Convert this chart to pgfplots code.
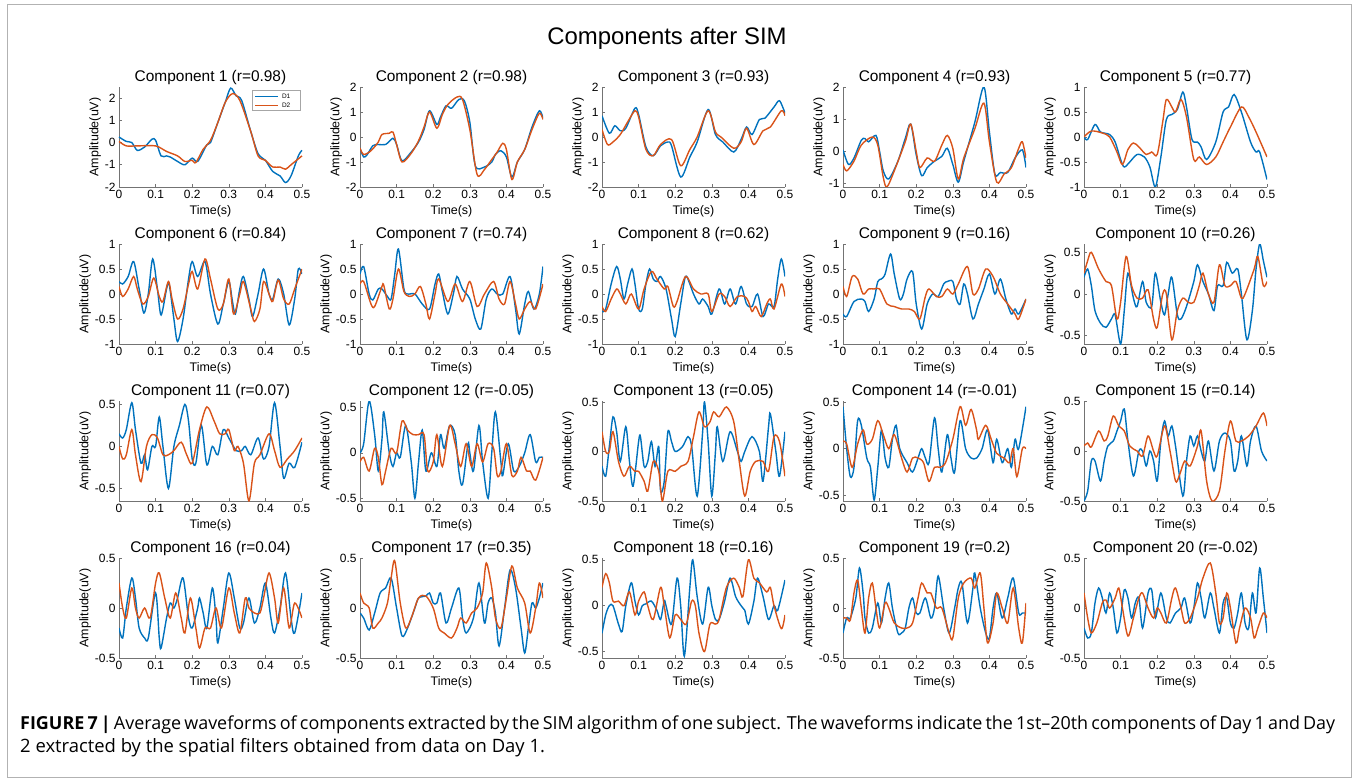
\documentclass[border=0pt]{standalone}
\usepackage{pgfplots}
\pgfplotsset{compat=1.18}
\usepackage{fontspec}
\setmainfont{Liberation Sans}
\newfontfamily\capfont{Open Sans}
\definecolor{mblue}{rgb}{0,0.447,0.741}
\definecolor{mred}{rgb}{0.851,0.325,0.098}
\definecolor{axgray}{gray}{0.45}
\pgfplotsset{
 comp/.style={
   scale only axis, width=183bp, height=100bp,
   axis x line*=bottom, axis y line*=left,
   xmin=0, xmax=0.5, xtick={0,0.1,0.2,0.3,0.4,0.5},
   xticklabels={0,0.1,0.2,0.3,0.4,0.5},
   tick align=inside, major tick length=3bp,
   axis line style={line width=0.6bp, color=axgray},
   tick style={line width=0.6bp, color=axgray},
   ticklabel style={font=\fontsize{12}{13}\selectfont, color=black},
   /pgf/number format/assume math mode=true,
   xlabel={Time(s)}, ylabel={Amplitude(uV)},
   label style={font=\fontsize{12.5}{13}\selectfont},
   xlabel style={yshift=0bp},
   ylabel style={yshift=-3bp},
   title style={font=\fontsize{15.5}{16}\selectfont, inner sep=1bp, yshift=-5bp},
   every axis plot/.append style={line width=1.4bp, smooth, tension=0.5, no markers},
   clip=true,
 }
}
% #1 x, #2 y, #3 title, #4 ymin, #5 ymax, #6 ytick, #7 blue, #8 red
\newcommand{\panel}[8]{%
\begin{axis}[comp, at={(#1bp,-#2bp)}, anchor=north west, title={#3}, ymin=#4, ymax=#5, ytick={#6}]
\addplot[mblue] coordinates {#7};
\addplot[mred] coordinates {#8};
\end{axis}}
\begin{document}
\begin{tikzpicture}
\useasboundingbox (0,0) rectangle (1358bp,-781bp);
\draw[gray!60, line width=0.8bp] (7bp,-4bp) rectangle (1351bp,-777bp);
\node[font=\fontsize{24}{26}\selectfont] at (667bp,-38bp) {Components after SIM};

% ---- Panel 1 with legend
\begin{axis}[comp, at={(119bp,-87bp)}, anchor=north west, title={Component 1 (r=0.98)}, ymin=-2, ymax=2.5, ytick={-2,-1,0,1,2}, clip=false]
\addplot[mblue] coordinates {(0,0.25)(0.02,0.05)(0.035,0.0)(0.05,-0.35)(0.07,-0.2)(0.09,0.15)(0.1,0.1)(0.115,-0.6)(0.13,-0.6)(0.14,-0.65)(0.16,-0.85)(0.18,-1.0)(0.2,-0.7)(0.215,-0.85)(0.24,-0.1)(0.25,0.0)(0.27,0.9)(0.29,1.8)(0.305,2.45)(0.32,2.1)(0.335,1.9)(0.36,0.5)(0.38,-0.5)(0.4,-0.8)(0.42,-1.3)(0.44,-1.5)(0.455,-1.8)(0.47,-1.5)(0.49,-0.6)(0.5,-0.35)};
\addplot[mred] coordinates {(0,0.05)(0.02,-0.15)(0.05,-0.15)(0.1,-0.15)(0.13,-0.4)(0.16,-0.6)(0.18,-0.85)(0.2,-0.8)(0.21,-0.9)(0.23,-0.3)(0.25,0.1)(0.27,0.9)(0.29,1.8)(0.31,2.2)(0.33,1.9)(0.36,0.5)(0.38,-0.6)(0.4,-0.8)(0.42,-1.1)(0.44,-1.1)(0.455,-1.2)(0.47,-1.0)(0.5,-0.6)};
% legend box
\draw[gray!70, fill=white, line width=0.5bp] (rel axis cs:0.727,0.97) rectangle (rel axis cs:0.989,0.77);
\draw[mblue, line width=1.3bp] (rel axis cs:0.745,0.905) -- (rel axis cs:0.87,0.905);
\draw[mred, line width=1.3bp] (rel axis cs:0.745,0.815) -- (rel axis cs:0.87,0.815);
\node[anchor=west, inner sep=0pt, font=\fontsize{6.5}{7}\selectfont] at (rel axis cs:0.89,0.905) {D1};
\node[anchor=west, inner sep=0pt, font=\fontsize{6.5}{7}\selectfont] at (rel axis cs:0.89,0.815) {D2};
\end{axis}

\panel{360}{87}{Component 2 (r=0.98)}{-2}{2}{-2,-1,0,1,2}
{(0,-0.45)(0.01,-0.8)(0.02,-0.7)(0.035,-0.35)(0.05,-0.3)(0.07,-0.3)(0.09,-0.05)(0.1,-0.3)(0.115,-0.95)(0.14,-0.6)(0.16,-0.2)(0.175,0.3)(0.19,1.05)(0.21,0.5)(0.22,0.8)(0.235,1.25)(0.25,1.15)(0.27,1.5)(0.285,1.45)(0.3,0.6)(0.315,-1.15)(0.34,-1.2)(0.36,-1.0)(0.37,-0.7)(0.385,-0.55)(0.4,-0.8)(0.415,-1.6)(0.43,-1.0)(0.45,-0.5)(0.47,0.4)(0.49,1.05)(0.5,0.75)}
{(0,-0.45)(0.01,-0.7)(0.03,-0.55)(0.05,-0.2)(0.06,0.1)(0.08,0.15)(0.09,0.2)(0.1,-0.3)(0.115,-1.0)(0.14,-0.65)(0.16,-0.15)(0.175,0.4)(0.19,1.0)(0.21,0.35)(0.225,0.9)(0.24,1.3)(0.265,1.6)(0.28,1.5)(0.3,0.3)(0.32,-1.5)(0.34,-1.3)(0.36,-0.9)(0.375,-0.6)(0.39,-0.25)(0.4,-0.5)(0.415,-1.7)(0.43,-1.0)(0.45,-0.5)(0.47,0.3)(0.49,0.95)(0.5,0.7)}

\panel{602}{87}{Component 3 (r=0.93)}{-2}{2}{-2,-1,0,1,2}
{(0,0.85)(0.02,0.15)(0.035,0.45)(0.05,0.25)(0.065,0.35)(0.09,1.15)(0.1,0.9)(0.12,-0.4)(0.14,-0.75)(0.16,-0.35)(0.18,-0.2)(0.19,-0.35)(0.215,-1.6)(0.24,-0.8)(0.26,-0.2)(0.29,1.1)(0.31,0.1)(0.33,-0.2)(0.36,-0.6)(0.38,-0.1)(0.395,0.4)(0.41,0.1)(0.43,0.7)(0.445,0.75)(0.47,1.2)(0.485,1.45)(0.5,0.95)}
{(0,0.3)(0.015,-0.3)(0.03,-0.2)(0.05,0.1)(0.07,0.6)(0.09,1.05)(0.1,0.8)(0.12,-0.5)(0.14,-0.75)(0.16,-0.3)(0.19,-0.1)(0.215,-1.15)(0.24,-0.5)(0.26,0.0)(0.29,1.05)(0.31,0.2)(0.325,0.0)(0.36,-0.45)(0.38,-0.2)(0.395,0.35)(0.415,-0.3)(0.44,0.25)(0.46,0.4)(0.49,1.05)(0.5,0.85)}

\panel{843}{87}{Component 4 (r=0.93)}{-1.1}{2}{-1,0,1,2}
{(0,0.05)(0.015,-0.4)(0.03,-0.2)(0.05,0.35)(0.06,0.4)(0.07,0.3)(0.09,0.5)(0.1,0.0)(0.11,-0.6)(0.125,-0.85)(0.15,-0.3)(0.17,0.4)(0.185,0.85)(0.2,-0.1)(0.215,-0.75)(0.23,-0.5)(0.25,-0.3)(0.27,-0.15)(0.285,0.1)(0.3,-0.4)(0.315,-0.95)(0.33,-0.3)(0.36,0.9)(0.385,2.0)(0.4,0.6)(0.415,-0.7)(0.43,-0.65)(0.45,-0.65)(0.47,-0.2)(0.49,0.05)(0.5,-0.5)}
{(0,-0.4)(0.01,-0.6)(0.03,-0.3)(0.05,0.2)(0.08,0.45)(0.095,0.2)(0.11,-0.8)(0.12,-1.1)(0.14,-0.6)(0.17,0.3)(0.185,0.85)(0.2,0.0)(0.21,-0.5)(0.23,-0.2)(0.25,-0.3)(0.27,0.2)(0.285,0.5)(0.3,0.1)(0.315,-0.85)(0.33,-0.2)(0.36,0.7)(0.385,1.5)(0.4,0.3)(0.42,-0.95)(0.44,-0.7)(0.46,-0.5)(0.48,0.1)(0.49,0.3)(0.5,-0.2)}

\panel{1084}{87}{Component 5 (r=0.77)}{-1}{1}{-1,-0.5,0,0.5,1}
{(0,0.0)(0.01,-0.05)(0.03,0.25)(0.045,0.1)(0.07,0.05)(0.085,-0.1)(0.1,-0.45)(0.11,-0.6)(0.125,-0.5)(0.145,-0.35)(0.165,-0.4)(0.18,-0.6)(0.195,-1.0)(0.21,-0.4)(0.225,0.35)(0.24,0.45)(0.255,0.55)(0.27,0.9)(0.28,0.6)(0.295,-0.05)(0.31,-0.1)(0.32,-0.2)(0.335,-0.45)(0.36,-0.1)(0.38,0.5)(0.395,0.6)(0.41,0.85)(0.43,0.5)(0.455,-0.1)(0.47,-0.3)(0.48,-0.3)(0.5,-0.85)}
{(0,0.0)(0.02,0.12)(0.05,0.08)(0.07,0.0)(0.09,-0.3)(0.105,-0.55)(0.12,-0.25)(0.135,-0.12)(0.15,-0.2)(0.17,-0.35)(0.185,-0.3)(0.2,-0.35)(0.215,0.3)(0.225,0.75)(0.24,0.6)(0.25,0.5)(0.265,0.75)(0.28,0.4)(0.3,-0.45)(0.315,-0.4)(0.335,-0.55)(0.36,-0.4)(0.38,-0.1)(0.4,0.2)(0.43,0.6)(0.45,0.4)(0.47,0.1)(0.5,-0.4)}

% ---- Row 2
\panel{119}{244}{Component 6 (r=0.84)}{-1}{1}{-1,-0.5,0,0.5,1}
{(0,0.25)(0.01,0.2)(0.025,0.35)(0.04,0.65)(0.055,0.1)(0.068,-0.38)(0.08,0.0)(0.092,0.7)(0.105,0.1)(0.115,-0.42)(0.13,0.1)(0.137,0.2)(0.15,-0.5)(0.16,-0.95)(0.175,-0.5)(0.19,0.3)(0.2,0.65)(0.215,0.35)(0.235,0.65)(0.25,0.0)(0.27,-0.6)(0.285,-0.2)(0.3,0.25)(0.31,-0.15)(0.318,-0.4)(0.33,0.1)(0.34,0.35)(0.355,-0.1)(0.365,-0.45)(0.38,0.0)(0.395,0.5)(0.41,0.0)(0.42,-0.1)(0.435,0.3)(0.45,0.0)(0.465,-0.62)(0.48,-0.1)(0.49,0.5)(0.5,0.4)}
{(0,0.15)(0.01,-0.05)(0.025,0.1)(0.04,0.35)(0.05,0.1)(0.065,-0.2)(0.08,-0.05)(0.095,0.32)(0.11,-0.05)(0.12,-0.15)(0.135,0.25)(0.145,-0.1)(0.16,-0.5)(0.175,-0.3)(0.19,0.2)(0.2,0.45)(0.215,0.1)(0.235,0.7)(0.25,0.3)(0.27,-0.3)(0.285,-0.2)(0.3,0.3)(0.313,-0.4)(0.33,0.0)(0.34,0.25)(0.36,-0.3)(0.37,-0.55)(0.385,-0.3)(0.395,0.25)(0.41,0.0)(0.42,-0.15)(0.435,0.28)(0.45,-0.1)(0.465,-0.2)(0.48,0.1)(0.5,0.5)}

\panel{360}{244}{Component 7 (r=0.74)}{-1}{1}{-1,-0.5,0,0.5,1}
{(0,0.4)(0.01,0.55)(0.025,0.0)(0.035,-0.12)(0.05,0.1)(0.06,0.1)(0.075,-0.05)(0.085,-0.1)(0.095,0.4)(0.105,0.9)(0.12,0.1)(0.13,0.0)(0.15,0.0)(0.17,-0.2)(0.19,-0.3)(0.205,0.2)(0.215,0.4)(0.225,0.05)(0.24,-0.4)(0.255,0.0)(0.265,0.35)(0.28,0.1)(0.3,-0.1)(0.315,-0.5)(0.33,-0.7)(0.345,-0.1)(0.36,0.1)(0.375,0.0)(0.39,0.0)(0.41,0.35)(0.425,-0.3)(0.435,-0.8)(0.45,-0.2)(0.46,0.05)(0.475,-0.3)(0.49,0.0)(0.5,0.55)}
{(0,0.2)(0.01,0.25)(0.03,-0.2)(0.04,-0.25)(0.06,0.15)(0.065,0.17)(0.08,-0.3)(0.09,-0.1)(0.105,0.5)(0.12,0.05)(0.135,-0.05)(0.15,0.0)(0.165,0.15)(0.18,-0.2)(0.19,-0.5)(0.205,0.0)(0.215,0.3)(0.24,-0.15)(0.26,0.2)(0.28,-0.15)(0.3,0.25)(0.32,-0.25)(0.34,0.0)(0.365,0.25)(0.38,-0.1)(0.395,-0.2)(0.41,0.25)(0.425,-0.2)(0.435,-0.5)(0.45,-0.3)(0.465,-0.15)(0.48,-0.3)(0.5,0.2)}

\panel{602}{244}{Component 8 (r=0.62)}{-1}{1}{-1,-0.5,0,0.5,1}
{(0,-0.35)(0.01,-0.3)(0.025,0.2)(0.04,0.55)(0.05,0.3)(0.06,-0.1)(0.07,0.2)(0.082,0.5)(0.09,0.2)(0.1,-0.3)(0.11,-0.3)(0.12,0.2)(0.13,0.5)(0.14,0.3)(0.15,0.25)(0.16,0.35)(0.175,0.1)(0.19,-0.5)(0.2,-0.85)(0.215,-0.2)(0.228,0.35)(0.24,0.2)(0.25,0.0)(0.265,-0.2)(0.275,-0.1)(0.29,-0.25)(0.3,-0.4)(0.32,0.1)(0.335,-0.2)(0.35,0.1)(0.365,-0.2)(0.38,0.15)(0.395,-0.2)(0.41,-0.25)(0.425,0.0)(0.44,-0.45)(0.455,-0.2)(0.47,-0.25)(0.48,0.3)(0.49,0.7)(0.5,0.35)}
{(0,-0.25)(0.01,-0.35)(0.025,-0.1)(0.04,0.1)(0.05,0.0)(0.065,-0.2)(0.08,0.0)(0.1,-0.3)(0.115,0.1)(0.135,0.45)(0.15,0.3)(0.17,0.1)(0.18,0.15)(0.195,-0.25)(0.205,-0.15)(0.228,0.35)(0.25,0.1)(0.27,0.0)(0.29,0.0)(0.3,-0.35)(0.32,0.0)(0.335,-0.05)(0.35,-0.25)(0.37,-0.05)(0.39,-0.05)(0.4,-0.15)(0.41,-0.35)(0.42,-0.25)(0.435,-0.45)(0.45,-0.2)(0.46,-0.1)(0.47,-0.3)(0.49,0.2)(0.5,-0.05)}

\panel{843}{244}{Component 9 (r=0.16)}{-1}{1}{-1,-0.5,0,0.5,1}
{(0,-0.4)(0.01,-0.45)(0.03,-0.15)(0.05,-0.1)(0.06,-0.15)(0.07,-0.35)(0.085,-0.1)(0.095,0.25)(0.105,0.3)(0.115,0.4)(0.13,0.8)(0.14,0.4)(0.155,-0.1)(0.165,0.0)(0.175,0.3)(0.19,0.45)(0.2,-0.2)(0.215,-0.7)(0.23,-0.2)(0.245,0.0)(0.26,-0.05)(0.275,0.2)(0.285,0.25)(0.3,0.25)(0.31,-0.1)(0.32,-0.2)(0.33,0.2)(0.34,0.0)(0.355,-0.5)(0.37,-0.2)(0.385,0.1)(0.4,0.4)(0.415,0.0)(0.43,0.3)(0.445,-0.1)(0.46,-0.4)(0.47,-0.3)(0.48,-0.4)(0.5,-0.1)}
{(0,0.15)(0.01,-0.05)(0.025,0.35)(0.04,0.3)(0.055,0.0)(0.07,0.1)(0.085,0.1)(0.1,0.1)(0.12,-0.2)(0.14,-0.25)(0.16,-0.3)(0.18,-0.3)(0.195,-0.35)(0.21,-0.5)(0.225,-0.05)(0.235,0.1)(0.255,-0.05)(0.27,-0.05)(0.285,0.1)(0.3,0.0)(0.315,0.2)(0.34,0.55)(0.355,0.0)(0.37,0.1)(0.39,0.5)(0.41,0.35)(0.43,0.0)(0.45,-0.2)(0.47,-0.4)(0.48,-0.5)(0.5,-0.1)}

\panel{1084}{244}{Component 10 (r=0.26)}{-0.6}{0.6}{-0.5,0,0.5}
{(0,0.2)(0.01,0.3)(0.02,0.1)(0.03,-0.2)(0.045,-0.35)(0.06,-0.4)(0.075,-0.3)(0.085,-0.25)(0.1,-0.6)(0.11,-0.2)(0.12,0.25)(0.135,-0.05)(0.145,-0.15)(0.16,0.15)(0.17,-0.1)(0.185,-0.15)(0.195,0.25)(0.21,-0.1)(0.22,-0.25)(0.23,0.0)(0.24,0.2)(0.255,-0.25)(0.265,-0.3)(0.28,-0.15)(0.3,0.15)(0.31,0.35)(0.325,0.15)(0.34,0.0)(0.355,-0.2)(0.365,0.1)(0.38,0.1)(0.39,0.38)(0.405,0.25)(0.42,0.3)(0.43,0.0)(0.445,-0.55)(0.46,-0.2)(0.47,0.3)(0.48,0.6)(0.49,0.4)(0.5,0.2)}
{(0,0.25)(0.01,0.4)(0.02,0.5)(0.04,0.3)(0.06,0.15)(0.075,0.1)(0.09,-0.3)(0.1,-0.1)(0.115,0.45)(0.13,0.1)(0.145,-0.05)(0.16,-0.05)(0.175,0.05)(0.19,-0.3)(0.2,-0.4)(0.215,0.0)(0.225,0.0)(0.24,-0.55)(0.255,-0.2)(0.27,-0.05)(0.285,-0.1)(0.3,-0.1)(0.315,0.1)(0.325,0.25)(0.34,0.0)(0.355,-0.1)(0.37,0.35)(0.385,0.1)(0.4,0.1)(0.415,0.15)(0.43,-0.05)(0.44,0.0)(0.465,0.3)(0.475,0.45)(0.49,0.1)(0.5,0.15)}

% ---- Row 3
\panel{119}{401}{Component 11 (r=0.07)}{-0.65}{0.54}{-0.5,0,0.5}
{(0,0.15)(0.01,0.1)(0.02,0.2)(0.035,0.52)(0.045,0.2)(0.06,-0.2)(0.07,-0.1)(0.078,-0.28)(0.09,0.0)(0.1,0.0)(0.11,0.35)(0.12,0.0)(0.135,-0.5)(0.15,0.0)(0.165,0.25)(0.18,0.5)(0.19,0.3)(0.2,-0.15)(0.21,-0.2)(0.225,0.25)(0.24,-0.22)(0.255,0.0)(0.27,-0.1)(0.285,0.2)(0.3,0.1)(0.32,-0.05)(0.335,-0.05)(0.345,0.0)(0.36,-0.1)(0.38,0.1)(0.395,-0.15)(0.41,0.0)(0.425,0.52)(0.44,0.0)(0.45,-0.38)(0.465,-0.2)(0.48,-0.25)(0.5,0.05)}
{(0,0.0)(0.01,-0.15)(0.02,-0.1)(0.035,0.2)(0.045,-0.1)(0.06,-0.42)(0.075,0.0)(0.09,0.14)(0.105,0.1)(0.12,-0.1)(0.135,-0.1)(0.15,-0.05)(0.17,0.05)(0.185,-0.1)(0.2,-0.2)(0.22,0.2)(0.24,0.47)(0.26,0.3)(0.275,0.15)(0.29,0.15)(0.3,0.2)(0.315,-0.05)(0.325,0.0)(0.34,-0.2)(0.355,-0.65)(0.37,-0.2)(0.385,-0.1)(0.41,0.15)(0.425,-0.05)(0.44,-0.25)(0.46,-0.15)(0.48,-0.05)(0.5,0.1)}

\panel{360}{401}{Component 12 (r=-0.05)}{-0.53}{0.57}{-0.5,0,0.5}
{(0,0.0)(0.01,0.1)(0.025,0.57)(0.04,0.2)(0.05,-0.2)(0.06,0.15)(0.065,0.45)(0.08,0.0)(0.09,-0.15)(0.1,0.0)(0.11,-0.05)(0.125,0.3)(0.14,-0.1)(0.15,-0.5)(0.16,-0.1)(0.17,0.25)(0.18,-0.2)(0.195,0.0)(0.21,-0.15)(0.22,0.2)(0.23,0.05)(0.245,0.3)(0.26,0.2)(0.27,-0.2)(0.28,-0.35)(0.295,0.1)(0.3,0.0)(0.31,-0.2)(0.325,0.3)(0.335,-0.1)(0.35,-0.5)(0.36,0.0)(0.37,0.45)(0.385,-0.1)(0.39,-0.25)(0.405,0.1)(0.42,-0.2)(0.435,-0.15)(0.45,0.0)(0.465,0.2)(0.48,-0.1)(0.49,-0.05)(0.5,-0.05)}
{(0,-0.1)(0.01,-0.05)(0.025,-0.2)(0.04,0.05)(0.05,-0.05)(0.06,-0.35)(0.07,-0.2)(0.085,0.05)(0.1,0.0)(0.115,0.35)(0.13,0.25)(0.145,0.2)(0.16,0.2)(0.175,0.2)(0.185,-0.2)(0.2,-0.1)(0.21,0.2)(0.225,-0.15)(0.245,0.3)(0.26,0.1)(0.275,-0.15)(0.29,0.1)(0.305,-0.15)(0.32,0.1)(0.335,-0.1)(0.35,0.1)(0.365,0.05)(0.375,-0.25)(0.385,-0.2)(0.4,0.1)(0.415,-0.25)(0.43,-0.2)(0.44,-0.05)(0.455,-0.2)(0.465,-0.2)(0.48,-0.3)(0.5,-0.05)}

\panel{602}{401}{Component 13 (r=0.05)}{-0.5}{0.51}{-0.5,0,0.5}
{(0,-0.15)(0.01,-0.25)(0.02,0.05)(0.03,0.35)(0.04,0.2)(0.05,-0.1)(0.065,0.25)(0.075,-0.1)(0.085,-0.35)(0.1,0.1)(0.105,0.15)(0.115,-0.15)(0.125,-0.1)(0.135,0.1)(0.145,-0.15)(0.155,0.05)(0.16,-0.4)(0.17,-0.3)(0.18,0.2)(0.19,0.1)(0.2,0.0)(0.22,0.05)(0.235,0.15)(0.245,0.05)(0.26,-0.45)(0.275,0.2)(0.28,0.5)(0.29,0.1)(0.3,-0.45)(0.31,0.0)(0.315,0.25)(0.33,-0.1)(0.35,0.2)(0.37,0.0)(0.38,-0.1)(0.39,0.0)(0.41,0.15)(0.43,0.0)(0.44,-0.3)(0.455,0.25)(0.46,0.38)(0.475,0.0)(0.485,-0.25)(0.5,0.2)}
{(0,0.2)(0.01,0.0)(0.02,0.0)(0.03,0.2)(0.045,-0.1)(0.06,-0.25)(0.075,-0.15)(0.09,-0.2)(0.1,-0.2)(0.115,-0.3)(0.125,-0.4)(0.14,-0.1)(0.155,-0.2)(0.165,-0.5)(0.18,-0.2)(0.2,-0.2)(0.215,-0.15)(0.235,-0.1)(0.25,0.15)(0.265,0.4)(0.28,0.25)(0.295,0.3)(0.305,0.4)(0.32,0.35)(0.34,0.45)(0.36,0.3)(0.375,-0.1)(0.39,-0.45)(0.405,-0.2)(0.42,-0.1)(0.44,-0.1)(0.455,-0.2)(0.47,0.15)(0.485,0.1)(0.5,-0.25)}

\panel{843}{401}{Component 14 (r=-0.01)}{-0.56}{0.51}{-0.5,0,0.5}
{(0,0.45)(0.01,0.0)(0.02,-0.3)(0.03,-0.2)(0.04,0.3)(0.05,0.25)(0.065,-0.1)(0.075,-0.2)(0.085,-0.55)(0.095,-0.2)(0.105,0.2)(0.115,-0.1)(0.125,-0.2)(0.135,0.1)(0.145,0.25)(0.155,0.0)(0.175,-0.15)(0.19,-0.25)(0.205,-0.1)(0.215,0.0)(0.225,-0.1)(0.235,-0.15)(0.25,0.33)(0.26,0.0)(0.27,-0.25)(0.285,0.15)(0.295,-0.1)(0.305,-0.25)(0.32,0.3)(0.335,0.0)(0.35,-0.1)(0.365,-0.1)(0.38,0.0)(0.395,0.2)(0.41,-0.15)(0.42,0.1)(0.435,-0.15)(0.45,0.0)(0.46,-0.2)(0.47,0.1)(0.48,0.0)(0.5,0.45)}
{(0,0.08)(0.01,0.05)(0.025,-0.2)(0.04,0.05)(0.055,0.2)(0.065,0.05)(0.08,0.1)(0.095,0.3)(0.11,0.15)(0.125,0.0)(0.14,0.15)(0.16,-0.1)(0.175,-0.25)(0.19,-0.1)(0.205,-0.1)(0.22,-0.15)(0.235,-0.35)(0.25,-0.2)(0.265,-0.2)(0.28,-0.15)(0.3,0.1)(0.32,0.45)(0.335,0.25)(0.35,0.42)(0.365,0.2)(0.37,0.1)(0.39,0.25)(0.405,0.1)(0.42,-0.05)(0.44,-0.1)(0.455,-0.15)(0.465,0.0)(0.475,-0.3)(0.49,0.0)(0.5,0.0)}

\panel{1084}{401}{Component 15 (r=0.14)}{-0.5}{0.5}{-0.5,0,0.5}
{(0,-0.5)(0.01,-0.4)(0.02,-0.1)(0.03,-0.1)(0.045,-0.3)(0.055,-0.1)(0.065,0.05)(0.08,0.1)(0.09,0.2)(0.1,0.3)(0.11,0.42)(0.12,0.1)(0.135,-0.25)(0.15,0.0)(0.16,0.0)(0.17,-0.15)(0.18,0.0)(0.19,-0.1)(0.2,-0.3)(0.21,0.1)(0.22,0.3)(0.23,0.15)(0.24,0.25)(0.25,0.05)(0.27,-0.45)(0.28,-0.1)(0.29,0.15)(0.3,0.05)(0.31,0.15)(0.32,0.0)(0.33,-0.1)(0.34,0.1)(0.355,-0.2)(0.37,0.1)(0.385,0.18)(0.4,0.1)(0.41,-0.2)(0.42,-0.1)(0.43,0.15)(0.445,-0.15)(0.455,0.1)(0.47,0.25)(0.485,0.0)(0.5,-0.1)}
{(0,0.05)(0.01,0.08)(0.02,0.04)(0.04,0.2)(0.055,0.1)(0.065,0.15)(0.08,0.35)(0.095,0.25)(0.11,0.2)(0.125,0.05)(0.145,0.0)(0.16,-0.05)(0.175,0.15)(0.19,0.0)(0.2,-0.05)(0.22,0.25)(0.235,0.0)(0.25,-0.3)(0.26,-0.25)(0.275,-0.1)(0.29,-0.15)(0.31,0.05)(0.32,0.2)(0.335,-0.3)(0.35,-0.5)(0.37,-0.4)(0.385,0.0)(0.4,0.3)(0.415,0.1)(0.43,0.1)(0.45,0.15)(0.47,0.25)(0.49,0.38)(0.5,0.25)}

% ---- Row 4
\panel{119}{558}{Component 16 (r=0.04)}{-0.5}{0.5}{-0.5,0,0.5}
{(0,-0.2)(0.01,-0.3)(0.02,0.0)(0.035,0.3)(0.045,0.1)(0.055,-0.2)(0.07,-0.3)(0.08,-0.3)(0.1,0.15)(0.11,-0.3)(0.115,-0.4)(0.13,-0.1)(0.14,0.05)(0.15,0.0)(0.16,0.1)(0.175,0.3)(0.19,-0.1)(0.2,-0.2)(0.215,0.0)(0.22,0.1)(0.23,-0.05)(0.24,-0.2)(0.255,0.2)(0.265,-0.1)(0.27,-0.35)(0.285,0.0)(0.3,0.35)(0.315,0.1)(0.33,-0.2)(0.34,-0.15)(0.355,0.1)(0.37,-0.15)(0.385,0.0)(0.4,0.25)(0.415,-0.1)(0.425,-0.25)(0.44,0.0)(0.455,0.35)(0.47,-0.1)(0.48,-0.25)(0.5,0.15)}
{(0,0.25)(0.01,0.0)(0.02,-0.1)(0.035,0.2)(0.045,0.0)(0.055,-0.1)(0.07,0.0)(0.085,-0.1)(0.1,0.25)(0.11,0.35)(0.125,0.1)(0.14,-0.1)(0.155,0.15)(0.17,-0.1)(0.18,-0.25)(0.195,0.1)(0.21,-0.2)(0.22,-0.4)(0.235,-0.2)(0.25,-0.2)(0.265,0.0)(0.28,-0.2)(0.3,0.2)(0.315,-0.05)(0.33,-0.25)(0.345,0.1)(0.355,0.0)(0.37,-0.05)(0.385,-0.05)(0.395,0.1)(0.41,0.35)(0.425,0.1)(0.435,-0.15)(0.45,0.2)(0.465,-0.2)(0.48,0.05)(0.5,-0.1)}

\panel{360}{558}{Component 17 (r=0.35)}{-0.5}{0.5}{-0.5,0,0.5}
{(0,-0.05)(0.01,-0.1)(0.025,-0.22)(0.04,-0.05)(0.055,0.15)(0.07,0.2)(0.085,0.3)(0.1,0.0)(0.115,-0.28)(0.13,-0.2)(0.15,0.0)(0.16,0.1)(0.18,0.12)(0.19,0.15)(0.2,0.05)(0.21,0.05)(0.22,0.15)(0.235,-0.15)(0.25,0.0)(0.27,0.2)(0.28,-0.1)(0.29,-0.25)(0.31,-0.1)(0.325,0.25)(0.34,-0.15)(0.35,0.05)(0.36,0.1)(0.37,-0.05)(0.38,-0.38)(0.395,0.0)(0.41,0.38)(0.425,0.2)(0.44,-0.2)(0.45,-0.45)(0.46,-0.2)(0.47,0.05)(0.48,0.0)(0.49,0.1)(0.5,0.25)}
{(0,0.15)(0.01,0.05)(0.025,0.0)(0.035,-0.2)(0.05,-0.15)(0.06,-0.1)(0.075,0.05)(0.085,0.3)(0.095,0.47)(0.11,0.05)(0.125,-0.2)(0.14,-0.1)(0.16,0.1)(0.18,0.12)(0.2,0.0)(0.215,-0.2)(0.23,-0.25)(0.25,-0.3)(0.265,-0.2)(0.275,-0.1)(0.29,-0.15)(0.305,-0.05)(0.32,0.0)(0.335,0.15)(0.345,0.45)(0.36,0.2)(0.37,-0.1)(0.385,-0.2)(0.4,0.1)(0.415,0.42)(0.43,0.2)(0.45,0.05)(0.465,-0.25)(0.48,0.0)(0.49,0.25)(0.5,0.1)}

\panel{602}{558}{Component 18 (r=0.16)}{-0.57}{0.52}{-0.5,0,0.5}
{(0,-0.3)(0.01,-0.1)(0.02,0.0)(0.03,0.0)(0.045,-0.2)(0.055,-0.28)(0.065,0.0)(0.08,0.25)(0.09,0.05)(0.1,-0.1)(0.11,0.0)(0.12,0.02)(0.135,0.05)(0.15,-0.05)(0.16,-0.15)(0.17,0.05)(0.175,0.0)(0.19,-0.2)(0.205,0.3)(0.215,0.0)(0.225,-0.55)(0.24,0.2)(0.248,0.5)(0.26,0.1)(0.275,-0.2)(0.29,0.2)(0.3,0.0)(0.31,-0.15)(0.32,-0.15)(0.335,0.05)(0.35,0.3)(0.365,0.1)(0.38,0.0)(0.39,-0.05)(0.4,-0.2)(0.415,0.05)(0.425,0.3)(0.44,0.1)(0.455,-0.15)(0.47,0.0)(0.48,-0.05)(0.5,0.28)}
{(0,0.2)(0.01,0.35)(0.02,0.25)(0.03,0.05)(0.045,0.05)(0.06,0.0)(0.075,0.15)(0.09,-0.1)(0.1,0.05)(0.115,0.15)(0.125,0.0)(0.14,-0.15)(0.16,0.2)(0.17,0.0)(0.185,-0.35)(0.2,-0.1)(0.215,-0.15)(0.23,-0.2)(0.245,0.05)(0.255,0.0)(0.265,-0.3)(0.28,-0.5)(0.295,-0.2)(0.31,-0.2)(0.32,-0.15)(0.34,0.2)(0.36,0.3)(0.375,0.2)(0.385,0.1)(0.4,0.5)(0.415,0.3)(0.43,0.25)(0.45,0.15)(0.46,0.2)(0.47,0.0)(0.49,-0.25)(0.5,-0.1)}

\panel{843}{558}{Component 19 (r=0.2)}{-0.5}{0.5}{-0.5,0,0.5}
{(0,-0.25)(0.01,-0.1)(0.02,-0.1)(0.035,0.1)(0.045,0.4)(0.055,0.15)(0.06,-0.1)(0.07,-0.25)(0.08,-0.2)(0.095,0.05)(0.105,-0.15)(0.115,0.1)(0.125,0.25)(0.135,0.0)(0.15,-0.25)(0.16,-0.25)(0.17,-0.2)(0.18,0.0)(0.19,0.1)(0.2,-0.05)(0.21,-0.05)(0.225,0.1)(0.24,-0.1)(0.25,0.0)(0.26,0.32)(0.275,0.0)(0.29,-0.25)(0.305,0.0)(0.315,0.2)(0.325,0.25)(0.34,-0.15)(0.355,0.2)(0.36,0.35)(0.375,0.0)(0.39,-0.25)(0.4,-0.3)(0.41,0.0)(0.42,0.15)(0.435,-0.1)(0.45,0.1)(0.465,0.3)(0.48,-0.05)(0.49,-0.05)(0.5,-0.05)}
{(0,-0.1)(0.01,-0.1)(0.02,-0.12)(0.03,0.15)(0.04,0.28)(0.05,0.0)(0.06,-0.25)(0.07,0.1)(0.08,0.25)(0.09,0.0)(0.1,-0.2)(0.115,0.05)(0.125,0.0)(0.14,-0.15)(0.16,-0.2)(0.175,-0.2)(0.19,-0.15)(0.205,0.1)(0.215,0.25)(0.23,0.15)(0.24,0.15)(0.255,0.0)(0.27,0.0)(0.29,-0.25)(0.3,-0.3)(0.315,0.1)(0.33,0.25)(0.35,0.3)(0.36,0.2)(0.375,0.35)(0.385,0.0)(0.395,-0.35)(0.41,-0.15)(0.42,0.15)(0.435,0.0)(0.45,-0.15)(0.465,0.2)(0.48,-0.2)(0.49,-0.35)(0.5,0.05)}

\panel{1084}{558}{Component 20 (r=-0.02)}{-0.5}{0.5}{-0.5,0,0.5}
{(0,-0.2)(0.01,-0.3)(0.02,-0.25)(0.03,0.05)(0.04,0.2)(0.05,0.1)(0.06,-0.05)(0.07,0.15)(0.08,0.0)(0.09,-0.25)(0.1,-0.1)(0.11,0.18)(0.12,0.1)(0.13,-0.1)(0.14,0.05)(0.15,0.1)(0.16,-0.2)(0.175,0.15)(0.185,0.18)(0.195,-0.1)(0.21,0.15)(0.225,-0.1)(0.235,-0.15)(0.25,-0.05)(0.265,0.0)(0.275,0.1)(0.29,-0.15)(0.3,0.0)(0.31,0.25)(0.32,0.1)(0.33,-0.1)(0.345,0.15)(0.355,0.0)(0.37,-0.25)(0.38,0.05)(0.39,0.1)(0.4,-0.15)(0.41,-0.2)(0.42,-0.05)(0.43,0.15)(0.44,-0.15)(0.45,-0.2)(0.46,0.15)(0.47,-0.05)(0.48,0.4)(0.49,0.1)(0.5,-0.25)}
{(0,0.15)(0.01,-0.1)(0.02,-0.25)(0.035,-0.15)(0.05,0.05)(0.06,0.08)(0.07,0.0)(0.085,0.1)(0.095,0.2)(0.105,0.0)(0.12,-0.28)(0.135,-0.1)(0.15,0.1)(0.16,0.15)(0.175,0.0)(0.19,-0.1)(0.2,0.0)(0.21,-0.05)(0.225,-0.15)(0.24,0.1)(0.25,0.2)(0.265,0.0)(0.275,-0.15)(0.29,-0.1)(0.31,0.1)(0.325,0.3)(0.345,0.45)(0.36,0.15)(0.37,-0.15)(0.38,-0.1)(0.39,0.15)(0.4,0.0)(0.415,-0.35)(0.425,-0.2)(0.44,0.0)(0.455,-0.1)(0.465,-0.3)(0.475,-0.2)(0.49,-0.05)(0.5,-0.1)}

% ---- Caption
\node[anchor=base west, inner sep=0pt, font=\capfont\fontsize{18}{22}\selectfont] at (20bp,-729bp)
 {\makebox[1315bp][s]{\textbf{FIGURE 7 |} Average waveforms of components extracted by the SIM algorithm of one subject. The waveforms indicate the 1st–20th components of Day 1 and Day}};
\node[anchor=base west, inner sep=0pt, font=\capfont\fontsize{18.5}{22}\selectfont] at (20bp,-752bp)
 {2 extracted by the spatial filters obtained from data on Day 1.};
\end{tikzpicture}
\end{document}
